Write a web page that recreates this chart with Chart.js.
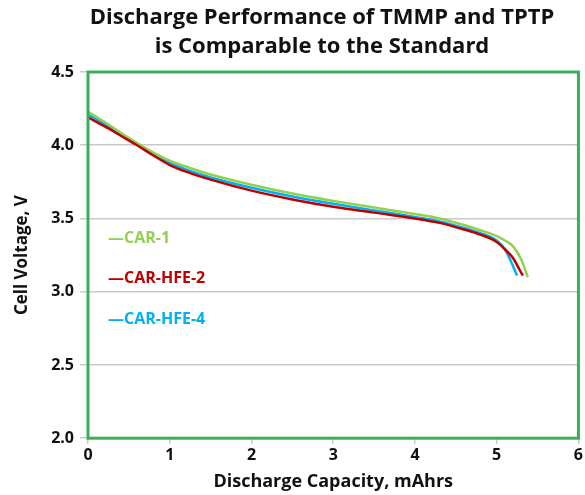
<!DOCTYPE html>
<html>
<head>
<meta charset="utf-8">
<script src="https://cdn.jsdelivr.net/npm/chart.js@4.4.1/dist/chart.umd.min.js"></script>
<style>
  html,body{margin:0;padding:0;background:#fff;}
  #wrap{width:585px;height:495px;position:relative;}
</style>
</head>
<body>
<div id="wrap"><canvas id="c"></canvas></div>
<script>
'use strict';
Chart.defaults.font.family = "'Open Sans', Lato, sans-serif";
Chart.defaults.animation = false;

// ── DATA ────────────────────────────────────────────────────────────────────
const TITLE = ['Discharge Performance of TMMP and TPTP', 'is Comparable to the Standard'];
const X_TITLE = 'Discharge Capacity, mAhrs';
const Y_TITLE = 'Cell Voltage, V';
const SERIES = ['CAR-1', 'CAR-HFE-2', 'CAR-HFE-4'];

const car1X = [0, 0.2, 0.4, 0.6, 0.8, 1, 1.25, 1.5, 2, 2.5, 3, 3.5, 4, 4.3, 4.6, 4.8, 5, 5.1, 5.2, 5.3, 5.38];
const car1Y = [4.23, 4.16, 4.085, 4.015, 3.95, 3.895, 3.845, 3.80, 3.73, 3.67, 3.62, 3.575, 3.53, 3.50, 3.455, 3.42, 3.38, 3.35, 3.31, 3.22, 3.10];

const hfe2X = [0, 0.2, 0.4, 0.6, 0.8, 1, 1.25, 1.5, 2, 2.5, 3, 3.5, 4, 4.3, 4.6, 4.8, 5, 5.1, 5.2, 5.28, 5.32];
const hfe2Y = [4.19, 4.13, 4.065, 4.00, 3.93, 3.865, 3.81, 3.765, 3.69, 3.63, 3.58, 3.54, 3.50, 3.47, 3.425, 3.39, 3.34, 3.29, 3.23, 3.15, 3.11];

const hfe4X = [0, 0.2, 0.4, 0.6, 0.8, 1, 1.25, 1.5, 2, 2.5, 3, 3.5, 4, 4.3, 4.6, 4.8, 5, 5.1, 5.18, 5.25];
const hfe4Y = [4.21, 4.145, 4.075, 4.01, 3.94, 3.88, 3.825, 3.78, 3.71, 3.65, 3.60, 3.555, 3.51, 3.48, 3.435, 3.40, 3.35, 3.29, 3.20, 3.11];

const C = { green:'#92d050', red:'#c00000', blue:'#00b0f0', frame:'#3aae5a', grid:'#c9c9c9' };

function pts(xs, ys){ return xs.map((x,i)=>({x, y:ys[i]})); }

// ── PLUGINS ─────────────────────────────────────────────────────────────────
const frame = {
  id:'frame',
  afterDatasetsDraw(chart){
    const {ctx, chartArea:a} = chart;
    ctx.save();
    ctx.strokeStyle = C.frame; ctx.lineWidth = 3;
    ctx.strokeRect(a.left, a.top, a.right - a.left, a.bottom - a.top);
    ctx.restore();
  }
};

// title drawn by hand: in the source it sits a bit right of the canvas centre
const topTitle = {
  id:'topTitle',
  afterDraw(chart){
    const {ctx} = chart;
    ctx.save();
    ctx.font = "bold 22px 'Open Sans', Lato, sans-serif";
    ctx.fillStyle = '#111'; ctx.textAlign = 'center'; ctx.textBaseline = 'middle';
    ctx.fillText(TITLE[0], 322, 18);
    ctx.fillText(TITLE[1], 322, 47);
    ctx.restore();
  }
};

// legend labels sit inside the plot, left side
const inLegend = {
  id:'inLegend',
  afterDraw(chart){
    const {ctx, scales:{x, y}} = chart;
    const rows = [[SERIES[0], C.green, 3.367], [SERIES[1], C.red, 3.092], [SERIES[2], C.blue, 2.81]];
    ctx.save();
    ctx.font = "bold 16px 'Open Sans', Lato, sans-serif";
    ctx.textBaseline = 'middle'; ctx.textAlign = 'left';
    rows.forEach(([t, col, v])=>{
      ctx.fillStyle = col;
      ctx.fillText('\u2014' + t, x.getPixelForValue(0.245), y.getPixelForValue(v));
    });
    ctx.restore();
  }
};

const line = (label, data, color) => ({
  label, data, borderColor:color, backgroundColor:color, borderWidth:2.5,
  showLine:true, pointRadius:0, cubicInterpolationMode:'monotone'
});

new Chart(document.getElementById('c'), {
  type:'scatter',
  data:{ datasets:[
    line(SERIES[1], pts(hfe2X, hfe2Y), C.red),
    line(SERIES[0], pts(car1X, car1Y), C.green),
    line(SERIES[2], pts(hfe4X, hfe4Y), C.blue)
  ]},
  options:{
    responsive:true, maintainAspectRatio:false, devicePixelRatio:1,
    layout:{ padding:{ left:12, right:6, top:72, bottom:2 } },
    plugins:{
      legend:{ display:false },
      tooltip:{ enabled:false },
      title:{ display:false }
    },
    scales:{
      x:{
        type:'linear', min:0, max:6,
        ticks:{ stepSize:1, color:'#111', font:{ size:16, weight:'bold' }, padding:2 },
        grid:{ drawOnChartArea:false, color:C.grid, tickLength:6, lineWidth:1.5 },
        border:{ display:false },
        title:{ display:true, text:X_TITLE, color:'#111', font:{ size:18, weight:'bold' }, padding:{ top:4, bottom:0 } }
      },
      y:{
        min:2, max:4.5,
        ticks:{ stepSize:0.5, color:'#111', font:{ size:16, weight:'bold' }, padding:6, callback:v=>v.toFixed(1) },
        grid:{ color:C.grid, lineWidth:1.5, tickLength:8 },
        border:{ display:false },
        title:{ display:true, text:Y_TITLE, color:'#111', font:{ size:17, weight:'bold' }, padding:{ top:0, bottom:4 } },
        afterFit(s){ s.width = 76; }
      }
    }
  },
  plugins:[frame, topTitle, inLegend]
});
</script>
</body>
</html>
